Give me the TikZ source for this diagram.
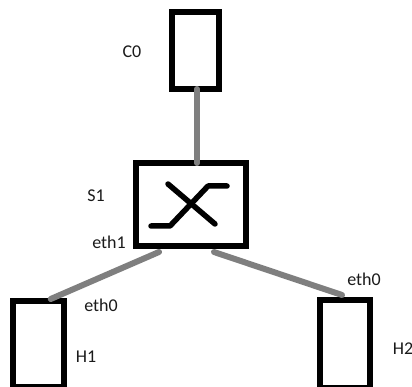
\documentclass[tikz,border=0pt]{standalone}
\usepackage{fontspec}
\setmainfont{Carlito}
\usetikzlibrary{calc}
\tikzset{
  box/.style={draw=black,line width=6pt,fill=white,inner sep=0pt,outer sep=0pt},
  link/.style={draw=linkgray,line width=6pt,line cap=round},
  sym/.style={draw=black,line width=5.5pt,line cap=round,line join=round},
  lab/.style={inner sep=0pt,text=labelc,font=\fontsize{18pt}{20pt}\selectfont}
}
\definecolor{linkgray}{HTML}{7F7F7F}
\definecolor{labelc}{HTML}{1A1A1A}
\begin{document}
\begin{tikzpicture}[x=1pt,y=-1pt]
\useasboundingbox (0,0) rectangle (412,387);
\node[box,minimum width=47pt,minimum height=77pt] (c0) at (195.5,50.5) {};
\node[box,minimum width=110pt,minimum height=83pt] (s1) at (191,204.5) {};
\node[box,minimum width=50.5pt,minimum height=86pt] (h1) at (38.7,344) {};
\node[box,minimum width=50pt,minimum height=88pt] (h2) at (345,344) {};
\draw[link] ($(c0.south)+(1.5,0)$) -- ($(s1.north)+(6,0)$);
\draw[link] ($(s1.south)+(-32,6)$) -- ($(h1.north)+(12,-2)$);
\draw[link] ($(s1.south)+(23,6)$) -- ($(h2.north)+(-3,-5)$);
\draw[sym] (151,226) -- (170,226) -- (208,186) -- (227,186);
\draw[sym] (168,184) -- (215,224);
\node[lab] (lc0) at (132,52) {C0};
\node[lab] (ls1) at (96,196) {S1};
\node[lab] (le1) at (109,242) {eth1};
\node[lab] (le0a) at (101,305) {eth0};
\node[lab] (lh1) at (86,357) {H1};
\node[lab] (le0b) at (364,279) {eth0};
\node[lab] (lh2) at (403,349) {H2};
\end{tikzpicture}
\end{document}
